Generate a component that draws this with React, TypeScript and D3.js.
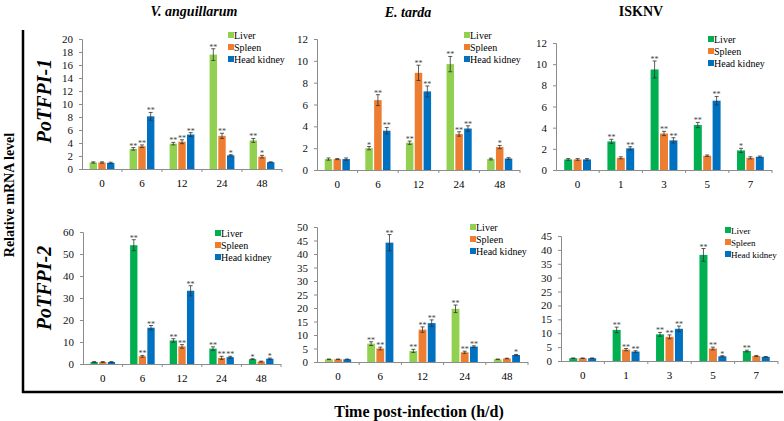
import { useEffect, useRef } from "react"
import * as d3 from "d3"

const tissues = ["Liver", "Spleen", "Head kidney"]
const hourPoints = ["0", "6", "12", "24", "48"]
const dayPoints = ["0", "1", "3", "5", "7"]

// each row: [liver, spleen, head kidney] at one time point
// PoTFPI-1 / V. anguillarum
const va1Mean = [[1.0, 1.0, 0.95], [3.1, 3.5, 8.1], [3.9, 4.2, 5.3], [17.6, 5.1, 2.1], [4.4, 1.9, 1.05]]
const va1Err = [[0.1, 0.1, 0.1], [0.2, 0.2, 0.6], [0.2, 0.3, 0.3], [0.9, 0.4, 0.1], [0.3, 0.2, 0.05]]
const va1Sig = [["", "", ""], ["**", "**", "**"], ["**", "**", "**"], ["**", "**", "*"], ["**", "*", ""]]

// PoTFPI-1 / E. tarda
const et1Mean = [[1.0, 1.0, 1.0], [2.0, 6.4, 3.6], [2.5, 8.9, 7.2], [9.7, 3.3, 3.8], [1.0, 2.1, 1.05]]
const et1Err = [[0.1, 0.05, 0.1], [0.15, 0.5, 0.3], [0.15, 0.7, 0.5], [0.7, 0.2, 0.25], [0.08, 0.15, 0.08]]
const et1Sig = [["", "", ""], ["*", "**", "**"], ["**", "**", "**"], ["**", "**", "**"], ["", "*", ""]]

// PoTFPI-1 / ISKNV
const is1Mean = [[1.0, 1.0, 1.0], [2.7, 1.15, 2.05], [9.5, 3.45, 2.8], [4.25, 1.35, 6.55], [1.85, 1.15, 1.25]]
const is1Err = [[0.08, 0.08, 0.08], [0.2, 0.1, 0.15], [0.8, 0.2, 0.25], [0.25, 0.07, 0.4], [0.2, 0.1, 0.07]]
const is1Sig = [["", "", ""], ["**", "", "**"], ["**", "**", "**"], ["**", "", "**"], ["*", "", ""]]

// PoTFPI-2 / V. anguillarum
const va2Mean = [[0.9, 0.9, 0.9], [54, 3.5, 16.5], [10.7, 8.0, 33.3], [7.0, 2.8, 3.1], [2.2, 1.1, 2.4]]
const va2Err = [[0.2, 0.2, 0.2], [2.5, 0.4, 1.0], [0.8, 0.8, 2.3], [0.8, 0.7, 0.4], [0.2, 0.2, 0.3]]
const va2Sig = [["", "", ""], ["**", "**", "**"], ["**", "**", "**"], ["**", "**", "**"], ["*", "", "*"]]

// PoTFPI-2 / E. tarda
const et2Mean = [[1.0, 1.0, 1.0], [6.8, 5.0, 44.2], [4.1, 12.0, 14.4], [19.7, 3.6, 5.7], [1.0, 1.3, 2.6]]
const et2Err = [[0.1, 0.1, 0.1], [0.7, 0.5, 3.0], [0.6, 1.0, 1.2], [1.4, 0.4, 0.3], [0.1, 0.1, 0.2]]
const et2Sig = [["", "", ""], ["**", "**", "**"], ["**", "**", "**"], ["**", "**", "**"], ["", "", "*"]]

// PoTFPI-2 / ISKNV
const is2Mean = [[1.0, 1.0, 1.0], [11.2, 4.1, 3.4], [9.6, 8.7, 11.6], [38.2, 4.5, 1.7], [3.6, 1.8, 1.5]]
const is2Err = [[0.1, 0.1, 0.1], [1.0, 0.4, 0.3], [0.7, 0.7, 1.0], [2.3, 0.5, 0.2], [0.3, 0.2, 0.1]]
const is2Sig = [["", "", ""], ["**", "**", "**"], ["**", "**", "**"], ["**", "**", "*"], ["**", "", ""]]

const lightGreen = "#92d050"
const darkGreen = "#00b050"
const orange = "#ed7d31"
const blue = "#0070c0"
const serif = "Liberation Serif, Times New Roman, serif"

const panels = [
  { cats: hourPoints, mean: va1Mean, err: va1Err, sig: va1Sig, max: 20, step: 2, left: 82, right: 282, top: 39, bottom: 169, lx: 228, ly: 35, lf: 10, liver: lightGreen },
  { cats: hourPoints, mean: et1Mean, err: et1Err, sig: et1Sig, max: 12, step: 2, left: 317, right: 520, top: 39, bottom: 170, lx: 464, ly: 35, lf: 10, liver: lightGreen },
  { cats: dayPoints, mean: is1Mean, err: is1Err, sig: is1Sig, max: 12, step: 2, left: 556, right: 772, top: 43, bottom: 170, lx: 708, ly: 39, lf: 10, liver: darkGreen },
  { cats: hourPoints, mean: va2Mean, err: va2Err, sig: va2Sig, max: 60, step: 10, left: 83, right: 281, top: 232, bottom: 364, lx: 215, ly: 233, lf: 10, liver: darkGreen },
  { cats: hourPoints, mean: et2Mean, err: et2Err, sig: et2Sig, max: 50, step: 5, left: 317, right: 528, top: 227, bottom: 362, lx: 470, ly: 227, lf: 10, liver: lightGreen },
  { cats: dayPoints, mean: is2Mean, err: is2Err, sig: is2Sig, max: 45, step: 5, left: 561, right: 778, top: 236, bottom: 361, lx: 725, ly: 230, lf: 9, liver: darkGreen },
]

export default function App() {
  const plotRef = useRef<SVGGElement>(null)

  useEffect(() => {
    if (!plotRef.current) return
    const root = d3.select(plotRef.current)
    root.selectAll("*").remove()

    panels.forEach((p) => {
      const g = root.append("g")
      const colors = [p.liver, orange, blue]

      const x0 = d3.scaleBand<string>().domain(p.cats).range([p.left, p.right])
      const bw = x0.bandwidth()
      const x1 = d3
        .scaleBand<string>()
        .domain(tissues)
        .range([bw / 2 - bw * 0.31, bw / 2 + bw * 0.31])
        .paddingInner(0.15)
      const y = d3.scaleLinear().domain([0, p.max]).range([p.bottom, p.top])

      // y axis
      const yAxis = g
        .append("g")
        .attr("transform", `translate(${p.left},0)`)
        .call(d3.axisLeft(y).tickValues(d3.range(0, p.max + 0.001, p.step)).tickSize(3).tickPadding(6))
      yAxis.attr("font-family", serif).attr("font-size", 11)
      yAxis.select(".domain").attr("stroke", "#8c8c8c")
      yAxis.selectAll("line").attr("stroke", "#8c8c8c")
      yAxis.selectAll("text").attr("fill", "#111")

      // x axis: ticks between groups
      g.append("line")
        .attr("x1", p.left)
        .attr("x2", p.right)
        .attr("y1", p.bottom + 0.5)
        .attr("y2", p.bottom + 0.5)
        .attr("stroke", "#8c8c8c")
      p.cats.forEach((c) => {
        const bx = (x0(c) as number) + bw
        g.append("line")
          .attr("x1", bx)
          .attr("x2", bx)
          .attr("y1", p.bottom)
          .attr("y2", p.bottom + 3)
          .attr("stroke", "#8c8c8c")
        g.append("text")
          .attr("x", (x0(c) as number) + bw / 2)
          .attr("y", p.bottom + 18)
          .attr("text-anchor", "middle")
          .attr("font-family", serif)
          .attr("font-size", 11)
          .text(c)
      })

      // bars, error bars, stars
      p.mean.forEach((row, i) => {
        const cx = x0(p.cats[i]) as number
        row.forEach((v, j) => {
          const bx = cx + (x1(tissues[j]) as number)
          const w = x1.bandwidth()
          g.append("rect")
            .attr("x", bx)
            .attr("y", y(v))
            .attr("width", w)
            .attr("height", p.bottom - y(v))
            .attr("fill", colors[j])
          const e = p.err[i][j]
          const mx = bx + w / 2
          g.append("line")
            .attr("x1", mx)
            .attr("x2", mx)
            .attr("y1", y(v - e))
            .attr("y2", y(v + e))
            .attr("stroke", "#333")
            .attr("stroke-width", 0.8)
          ;[v - e, v + e].forEach((t) => {
            g.append("line")
              .attr("x1", mx - 2)
              .attr("x2", mx + 2)
              .attr("y1", y(t))
              .attr("y2", y(t))
              .attr("stroke", "#333")
              .attr("stroke-width", 0.8)
          })
          if (p.sig[i][j]) {
            g.append("text")
              .attr("x", mx)
              .attr("y", y(v + e) + 1)
              .attr("text-anchor", "middle")
              .attr("font-family", serif)
              .attr("font-size", 8)
              .attr("fill", "#444")
              .text(p.sig[i][j])
          }
        })
      })

      // legend
      tissues.forEach((t, j) => {
        const ly = p.ly + j * 12
        g.append("rect").attr("x", p.lx).attr("y", ly - 3).attr("width", 6).attr("height", 6).attr("fill", colors[j])
        g.append("text")
          .attr("x", p.lx + 6)
          .attr("y", ly + 4)
          .attr("font-family", serif)
          .attr("font-size", p.lf)
          .text(t)
      })
    })
  }, [])

  return (
    <svg width={784} height={421} fontFamily={serif} style={{ position: "absolute", left: 0, top: 0, background: "#fff" }}>
      <g fontWeight="bold">
        <text x={194} y={16} textAnchor="middle" fontSize={14} fontStyle="italic">V. anguillarum</text>
        <text x={408} y={17} textAnchor="middle" fontSize={14} fontStyle="italic">E. tarda</text>
        <text x={641} y={16} textAnchor="middle" fontSize={14}>ISKNV</text>
        <text transform="translate(14,195) rotate(-90)" textAnchor="middle" fontSize={14}>Relative mRNA level</text>
        <text transform="translate(51,101) rotate(-90)" textAnchor="middle" fontSize={20} fontStyle="italic">PoTFPI-1</text>
        <text transform="translate(51,288) rotate(-90)" textAnchor="middle" fontSize={20} fontStyle="italic">PoTFPI-2</text>
        <text x={419} y={417} textAnchor="middle" fontSize={16}>Time post-infection (h/d)</text>
      </g>
      <line x1={23} x2={23} y1={30} y2={393} stroke="#000" strokeWidth={2.5} />
      <line x1={22} x2={783} y1={392} y2={392} stroke="#000" strokeWidth={2.5} />
      <g ref={plotRef} />
    </svg>
  )
}
